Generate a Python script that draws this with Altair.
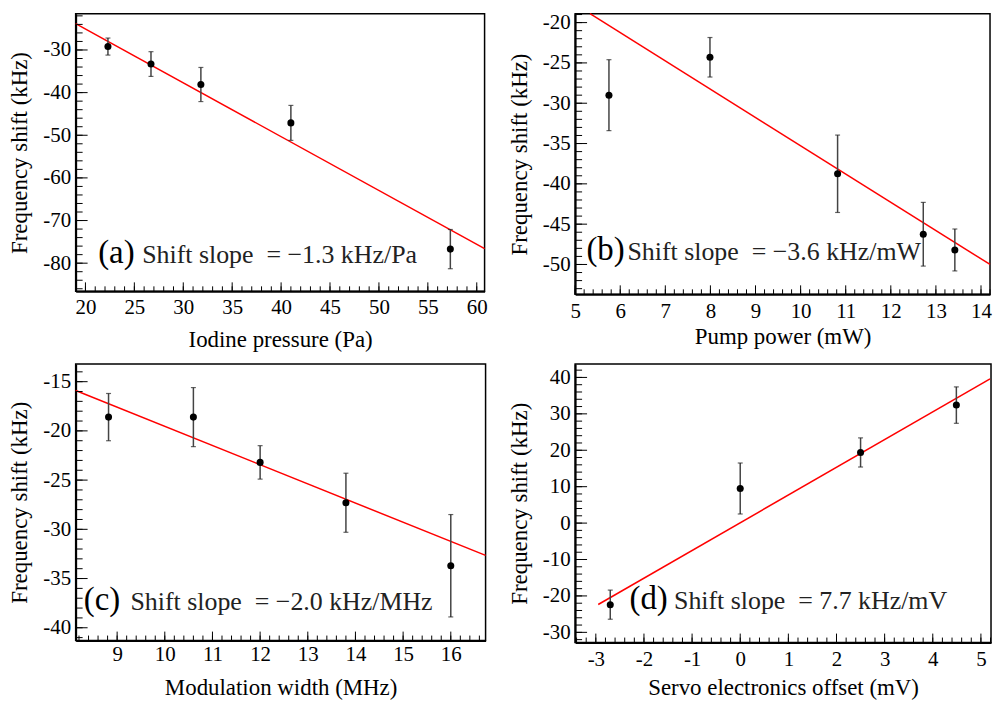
import altair as alt
import numpy as np
import pandas as pd

FONT = "'Liberation Serif', 'Times New Roman', Times, serif"
YTITLE = "Frequency shift (kHz)"
NB = "\u00a0"

# ---------------- panel (a) ----------------
a_x = [22.3, 26.7, 31.8, 41.0, 57.3]
a_y = [-29.2, -33.3, -38.1, -47.1, -76.7]
a_err = [2.0, 2.9, 4.0, 4.1, 4.6]
a_fit_x = [19.0, 60.8]
a_fit_y = [-23.8, -76.6]
a_xdom = [19.0, 60.8]
a_ydom = [-86.6, -21.5]
a_xmajor = [20, 25, 30, 35, 40, 45, 50, 55, 60]
a_ymajor = [-80, -70, -60, -50, -40, -30]
a_xtitle = "Iodine pressure (Pa)"
a_tag = "(a)"
a_slope = "Shift slope" + NB * 2 + "=" + NB + "−1.3" + NB + "kHz/Pa"
a_tag_xy = [21.3, -80.0]
a_slope_xy = [25.8, -80.0]

# ---------------- panel (b) ----------------
b_x = [5.75, 7.99, 10.82, 12.72, 13.42]
b_y = [-29.0, -24.3, -38.75, -46.25, -48.2]
b_err = [4.4, 2.45, 4.8, 3.95, 2.6]
b_fit_x = [5.33, 14.2]
b_fit_y = [-18.9, -50.0]
b_xdom = [5.0, 14.2]
b_ydom = [-53.7, -18.9]
b_xmajor = [5, 6, 7, 8, 9, 10, 11, 12, 13, 14]
b_ymajor = [-50, -45, -40, -35, -30, -25, -20]
b_xtitle = "Pump power (mW)"
b_tag = "(b)"
b_slope = "Shift slope" + NB * 2 + "=" + NB + "−3.6" + NB + "kHz/mW"
b_tag_xy = [5.25, -49.5]
b_slope_xy = [6.16, -49.5]

# ---------------- panel (c) ----------------
c_x = [8.82, 10.6, 12.0, 13.8, 16.0]
c_y = [-18.6, -18.6, -23.2, -27.3, -33.7]
c_err = [2.4, 3.0, 1.7, 3.0, 5.2]
c_fit_x = [8.13, 16.73]
c_fit_y = [-15.9, -32.65]
c_xdom = [8.13, 16.73]
c_ydom = [-41.3, -13.2]
c_xmajor = [9, 10, 11, 12, 13, 14, 15, 16]
c_ymajor = [-40, -35, -30, -25, -20, -15]
c_xtitle = "Modulation width (MHz)"
c_tag = "(c)"
c_slope = "Shift slope" + NB * 2 + "=" + NB + "−2.0" + NB + "kHz/MHz"
c_tag_xy = [8.30, -38.2]
c_slope_xy = [9.28, -38.2]

# ---------------- panel (d) ----------------
d_x = [-2.7, 0.0, 2.5, 4.49]
d_y = [-22.4, 9.5, 19.4, 32.4]
d_err = [4.0, 7.0, 4.0, 5.0]
d_fit_x = [-2.95, 5.19]
d_fit_y = [-22.35, 39.6]
d_xdom = [-3.43, 5.21]
d_ydom = [-32.8, 43.7]
d_xmajor = [-3, -2, -1, 0, 1, 2, 3, 4, 5]
d_ymajor = [-30, -20, -10, 0, 10, 20, 30, 40]
d_xtitle = "Servo electronics offset (mV)"
d_tag = "(d)"
d_slope = "Shift slope" + NB * 2 + "=" + NB + "7.7" + NB + "kHz/mV"
d_tag_xy = [-2.30, -23.5]
d_slope_xy = [-1.376, -23.5]


def minor_ticks(dom, step):
    start = np.ceil(dom[0] / step - 1e-9) * step
    vals = np.arange(start, dom[1] + 1e-9, step)
    return [round(float(v), 4) for v in vals]


def panel(px, py, perr, fx, fy, xdom, ydom, xmaj, xstep, ymaj, ystep,
          xtitle, tag, slope, tag_xy, slope_xy, w, h, xlabpad, xtitlepad):
    pts = pd.DataFrame({
        "x": px, "y": py,
        "lo": [v - e for v, e in zip(py, perr)],
        "hi": [v + e for v, e in zip(py, perr)],
    })
    fit = pd.DataFrame({"x": fx, "y": fy})
    xs = alt.Scale(domain=xdom, nice=False, zero=False)
    ys = alt.Scale(domain=ydom, nice=False, zero=False)
    common = dict(ticks=False, grid=False, labelExpr="datum.value + ''",
                  labelOverlap=False, labelFont=FONT, labelFontSize=21,
                  labelColor="black", titleFont=FONT, titleFontSize=23,
                  titleColor="black", titleFontWeight="normal",
                  domainColor="black", domainWidth=2)
    xaxis = alt.Axis(title=xtitle, values=xmaj, labelPadding=xlabpad,
                     labelFlush=False, titlePadding=xtitlepad, **common)
    yaxis = alt.Axis(title=YTITLE, values=ymaj, labelPadding=5,
                     minExtent=38, maxExtent=38, titlePadding=6, **common)

    def X(f):
        return alt.X(f, scale=xs, axis=xaxis)

    def Y(f):
        return alt.Y(f, scale=ys, axis=yaxis)

    base = alt.Chart(pts)
    points = base.mark_circle(color="black", opacity=1, size=50).encode(
        x=X("x:Q"), y=Y("y:Q"))
    bars = base.mark_rule(color="#444444", strokeWidth=1.5).encode(
        x=X("x:Q"), y=Y("lo:Q"), y2="hi:Q")
    cap_lo = base.mark_tick(color="#222222", orient="horizontal", size=5, thickness=1.2).encode(
        x=X("x:Q"), y=Y("lo:Q"))
    cap_hi = base.mark_tick(color="#222222", orient="horizontal", size=5, thickness=1.2).encode(
        x=X("x:Q"), y=Y("hi:Q"))
    line = alt.Chart(fit).mark_line(color="#ff0000", strokeWidth=1.5).encode(
        x=X("x:Q"), y=Y("y:Q"))

    def yticks(vals, ln):
        return alt.Chart(pd.DataFrame({"y": vals})).mark_rule(
            color="black", strokeWidth=1).encode(
            y=Y("y:Q"), x=alt.value(0), x2=alt.value(ln))

    def xticks(vals, ln):
        return alt.Chart(pd.DataFrame({"x": vals})).mark_rule(
            color="black", strokeWidth=1).encode(
            x=X("x:Q"), y=alt.value(h), y2=alt.value(h - ln))

    tags = alt.Chart(pd.DataFrame({"x": [tag_xy[0]], "y": [tag_xy[1]], "t": [tag]})).mark_text(
        font=FONT, fontSize=33, align="left", baseline="alphabetic", color="black").encode(
        x=X("x:Q"), y=Y("y:Q"), text="t:N")
    slopes = alt.Chart(pd.DataFrame({"x": [slope_xy[0]], "y": [slope_xy[1]], "t": [slope]})).mark_text(
        font=FONT, fontSize=26, align="left", baseline="alphabetic", color="#222222").encode(
        x=X("x:Q"), y=Y("y:Q"), text="t:N")

    return alt.layer(
        line,
        yticks(minor_ticks(ydom, ystep), 7), yticks(ymaj, 12),
        xticks(minor_ticks(xdom, xstep), 5), xticks(xmaj, 9),
        bars, cap_lo, cap_hi, points, tags, slopes,
    ).properties(width=w, height=h)


pa = panel(a_x, a_y, a_err, a_fit_x, a_fit_y, a_xdom, a_ydom, a_xmajor, 1, a_ymajor, 2,
           a_xtitle, a_tag, a_slope, a_tag_xy, a_slope_xy, 411, 279, 5, 11)
pb = panel(b_x, b_y, b_err, b_fit_x, b_fit_y, b_xdom, b_ydom, b_xmajor, 0.2, b_ymajor, 1,
           b_xtitle, b_tag, b_slope, b_tag_xy, b_slope_xy, 417, 282, 6, 4)
pc = panel(c_x, c_y, c_err, c_fit_x, c_fit_y, c_xdom, c_ydom, c_xmajor, 0.2, c_ymajor, 1,
           c_xtitle, c_tag, c_slope, c_tag_xy, c_slope_xy, 412, 278, 3, 12)
pd_ = panel(d_x, d_y, d_err, d_fit_x, d_fit_y, d_xdom, d_ydom, d_xmajor, 0.2, d_ymajor, 2,
            d_xtitle, d_tag, d_slope, d_tag_xy, d_slope_xy, 418, 280, 6, 7)

chart = alt.concat(
    pa, pb, pc, pd_, columns=2,
    spacing={"row": 70, "column": 90}, bounds="flush", align="each",
).properties(padding=0).configure_view(
    stroke="black", strokeWidth=1.5
)

chart.save("out.html", embed_options={"renderer": "svg", "actions": False})
